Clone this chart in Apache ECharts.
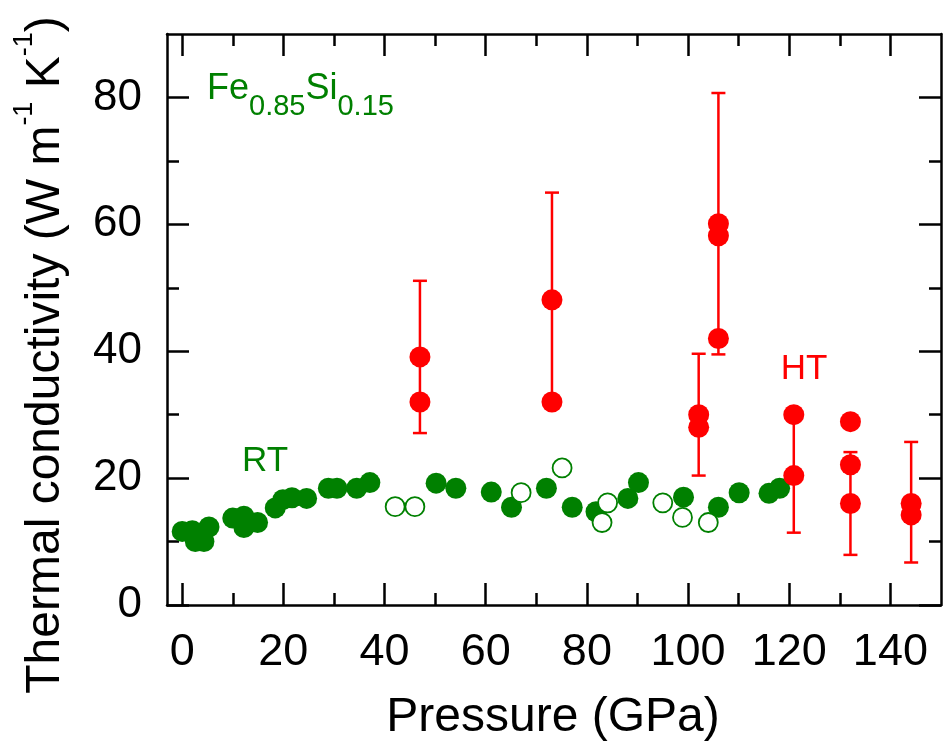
<!DOCTYPE html>
<html><head><meta charset="utf-8">
<script src="https://cdn.jsdelivr.net/npm/echarts@6/dist/echarts.min.js"></script>
<style>html,body{margin:0;padding:0;background:#fff}#c{width:943px;height:744px}</style>
</head><body><div id="c"></div>
<script>
// ---- data ----
const xMajorTicks = [0, 20, 40, 60, 80, 100, 120, 140];
const xMinorTicks = [10, 30, 50, 70, 90, 110, 130];
const yMajorTicks = [0, 20, 40, 60, 80];
const yMinorTicks = [10, 30, 50, 70];

const rtFilledP = [0, 2, 2.6, 4.3, 5.3, 10, 12.2, 12.2, 14.9, 18.4, 19.9, 21.7, 24.6, 28.9, 30.6, 34.5, 37.1, 50.2, 54.1, 61.1, 65.1, 72, 77.1, 81.8, 88.1, 90.2, 99.1, 106, 110.1, 116, 118.1];
const rtFilledK = [11.6, 11.7, 10.0, 10.0, 12.3, 13.7, 14.0, 12.2, 13.0, 15.3, 16.6, 16.9, 16.8, 18.4, 18.4, 18.4, 19.3, 19.2, 18.4, 17.8, 15.4, 18.4, 15.4, 14.7, 16.8, 19.3, 17.0, 15.4, 17.7, 17.6, 18.4];

const rtOpenP = [42.1, 46, 67, 75.1, 83, 84.1, 95, 98.9, 104];
const rtOpenK = [15.5, 15.5, 17.7, 21.6, 13.0, 16.1, 16.1, 13.8, 13.0];

const htP = [47, 47, 73.1, 73.1, 102.1, 102.1, 106, 106, 106, 120.9, 120.9, 132.1, 132.1, 132.1, 144.1, 144.1];
const htK = [39.1, 32, 48.1, 32, 30, 28, 60.1, 58.2, 42, 30, 20.4, 28.9, 22.1, 16, 16, 14.2];

const errP = [47, 73.1, 102.1, 106, 120.9, 132.1, 144.1];
const errLow = [27.1, 32, 20.4, 39.5, 11.4, 7.9, 6.7];
const errHigh = [51.1, 65, 39.6, 80.7, 30, 24.1, 25.7];

// ---- styles ----
const FONT = "'Liberation Sans', Arial, Helvetica, sans-serif";
const GREEN = '#008000';
const RED = '#ff0000';

const chart = echarts.init(document.getElementById('c'), null, {renderer: 'canvas'});

const mctx = document.createElement('canvas').getContext('2d');
function tw(t, size) { mctx.font = size + 'px ' + FONT; return mctx.measureText(t).width; }
function textRow(segs, color, anchor) {
  let total = 0; segs.forEach(s => total += tw(s.t, s.size));
  let x = anchor === 'center' ? -total / 2 : 0;
  const children = [];
  segs.forEach(s => {
    children.push({type: 'text', x: x, y: s.dy || 0,
      style: {text: s.t, font: s.size + 'px ' + FONT, fill: color, align: 'left', verticalAlign: 'middle'}});
    x += tw(s.t, s.size);
  });
  return children;
}

function mkX(pos, vals, len, showLine, showLabel) {
  return {type: 'value', min: -3, max: 150, position: pos, gridIndex: 0,
    axisLine: {show: showLine, onZero: false, lineStyle: {color: '#000', width: 2.5}},
    axisTick: {show: true, inside: true, length: len, customValues: vals, lineStyle: {color: '#000', width: 2.5}},
    axisLabel: {show: showLabel, customValues: vals, fontSize: 45, color: '#000', fontFamily: FONT, margin: 25},
    splitLine: {show: false}};
}
function mkY(pos, vals, len, showLine, showLabel) {
  return {type: 'value', min: 0, max: 90, position: pos, gridIndex: 0,
    axisLine: {show: showLine, onZero: false, lineStyle: {color: '#000', width: 2.5}},
    axisTick: {show: true, inside: true, length: len, customValues: vals, lineStyle: {color: '#000', width: 2.5}},
    axisLabel: {show: showLabel, customValues: vals, fontSize: 44, color: '#000', fontFamily: FONT, margin: 25},
    splitLine: {show: false}};
}

const option = {
  animation: false,
  backgroundColor: '#fff',
  grid: {left: 167, top: 34, right: 2, bottom: 139, containLabel: false},
  xAxis: [
    mkX('bottom', xMajorTicks, 22, true, true),
    mkX('bottom', xMinorTicks, 12, false, false),
    mkX('top', xMajorTicks, 22, true, false),
    mkX('top', xMinorTicks, 12, false, false)
  ],
  yAxis: [
    mkY('left', yMajorTicks, 22, true, true),
    mkY('left', yMinorTicks, 12, false, false),
    mkY('right', yMajorTicks, 22, true, false),
    mkY('right', yMinorTicks, 12, false, false)
  ],
  series: [
    {type: 'scatter', name: 'RT filled', symbol: 'circle', symbolSize: 21, z: 2,
      itemStyle: {color: GREEN, opacity: 1},
      data: rtFilledP.map((p, i) => [p, rtFilledK[i]])},
    {type: 'scatter', name: 'RT open', symbol: 'circle', symbolSize: 19, z: 3,
      itemStyle: {color: '#fff', borderColor: GREEN, borderWidth: 1.8, opacity: 1},
      data: rtOpenP.map((p, i) => [p, rtOpenK[i]])},
    {type: 'custom', name: 'HT err', z: 4,
      renderItem: function (params, api) {
        const x = api.value(0), lo = api.value(1), hi = api.value(2);
        const p1 = api.coord([x, lo]), p2 = api.coord([x, hi]);
        const hw = 7;
        const st = {stroke: RED, lineWidth: 2.5};
        return {type: 'group', children: [
          {type: 'line', shape: {x1: p1[0], y1: p1[1], x2: p2[0], y2: p2[1]}, style: st},
          {type: 'line', shape: {x1: p1[0] - hw, y1: p1[1], x2: p1[0] + hw, y2: p1[1]}, style: st},
          {type: 'line', shape: {x1: p2[0] - hw, y1: p2[1], x2: p2[0] + hw, y2: p2[1]}, style: st}
        ]};
      },
      encode: {x: 0, y: [1, 2]},
      data: errP.map((p, i) => [p, errLow[i], errHigh[i]])},
    {type: 'scatter', name: 'HT', symbol: 'circle', symbolSize: 21, z: 5,
      itemStyle: {color: RED, opacity: 1},
      data: htP.map((p, i) => [p, htK[i]])}
  ],
  graphic: [
    {type: 'group', x: 207, y: 89.5, children: textRow([
      {t: 'Fe', size: 36, dy: 0}, {t: '0.85', size: 29, dy: 17},
      {t: 'Si', size: 36, dy: 0}, {t: '0.15', size: 29, dy: 17}], GREEN, 'left')},
    {type: 'text', x: 265, y: 461, style: {text: 'RT', font: '35px ' + FONT, fill: GREEN, align: 'center', verticalAlign: 'middle'}},
    {type: 'text', x: 804, y: 369, style: {text: 'HT', font: '35px ' + FONT, fill: RED, align: 'center', verticalAlign: 'middle'}},
    {type: 'text', x: 553, y: 718, style: {text: 'Pressure (GPa)', font: '48px ' + FONT, fill: '#000', align: 'center', verticalAlign: 'middle'}},
    {type: 'group', x: 46, y: 355, rotation: Math.PI / 2, children: textRow([
      {t: 'Thermal conductivity (W m', size: 48, dy: 0}, {t: '-1', size: 27, dy: -21},
      {t: ' K', size: 48, dy: 0}, {t: '-1', size: 27, dy: -21}, {t: ')', size: 48, dy: 0}], '#000', 'center')}
  ]
};
chart.setOption(option);
</script>
</body></html>
